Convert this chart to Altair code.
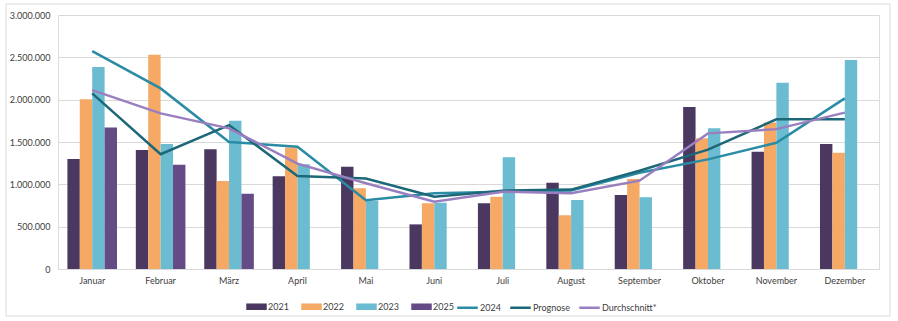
import altair as alt
import pandas as pd

months = ["Januar", "Februar", "März", "April", "Mai", "Juni", "Juli",
          "August", "September", "Oktober", "November", "Dezember"]

v2021 = [1300000, 1405000, 1413000, 1095000, 1208000, 527000, 776000,
         1019000, 874000, 1913000, 1385000, 1476000]
v2022 = [2005000, 2530000, 1039000, 1435000, 955000, 776000, 854000,
         634000, 1063000, 1545000, 1730000, 1373000]
v2023 = [2385000, 1476000, 1750000, 1238000, 805000, 783000, 1319000,
         815000, 846000, 1663000, 2200000, 2468000]
v2025 = [1670000, 1232000, 889000]

l2024 = [2574000, 2133000, 1500000, 1444000, 812000, 894000, 913000,
         928000, 1137000, 1295000, 1491000, 2015000]
prognose = [2075000, 1356000, 1700000, 1098000, 1068000, 854000, 925000,
            938000, 1160000, 1410000, 1768000, 1768000]
durchschnitt = [2113000, 1838000, 1661000, 1245000, 1012000, 795000, 913000,
                895000, 1043000, 1602000, 1652000, 1847000]

bar_series = ["2021", "2022", "2023", "2025"]
bar_colors = ["#4A3860", "#F6A865", "#6BBCD1", "#654B85"]
line_series = ["2024", "Prognose", "Durchschnitt*"]
line_colors = ["#2A8BA5", "#1D6878", "#9A7FC0"]

rows = []
for name, vals in zip(bar_series, [v2021, v2022, v2023, v2025]):
    for m, v in zip(months, vals):
        rows.append({"Monat": m, "Serie": name, "Wert": v})
bars_df = pd.DataFrame(rows)

rows = []
for name, vals in zip(line_series, [l2024, prognose, durchschnitt]):
    for m, v in zip(months, vals):
        rows.append({"Monat": m, "Linie": name, "Wert": v})
lines_df = pd.DataFrame(rows)

x_enc = alt.X(
    "Monat:N", sort=months, title=None,
    scale=alt.Scale(domain=months, paddingInner=0.275, paddingOuter=0.1375),
    axis=alt.Axis(labelAngle=0, ticks=False, domain=False, labelPadding=7,
                  labelFontSize=9, labelColor="#404040", labelFont="Lato"),
)
y_enc = alt.Y(
    "Wert:Q", title=None,
    scale=alt.Scale(domain=[0, 3000000], nice=False),
    axis=alt.Axis(values=[0, 500000, 1000000, 1500000, 2000000, 2500000, 3000000],
                  format=",d", ticks=False, domain=False, labelPadding=8,
                  gridColor="#D9D9D9", gridWidth=1,
                  labelFontSize=9, labelColor="#404040", labelFont="Lato"),
)

bars = alt.Chart(bars_df).mark_bar(size=12.4).encode(
    x=x_enc,
    y=y_enc,
    xOffset=alt.XOffset("Serie:N", sort=bar_series,
                        scale=alt.Scale(domain=bar_series, paddingInner=0, paddingOuter=0)),
    fill=alt.Fill("Serie:N", sort=bar_series,
                  scale=alt.Scale(domain=bar_series, range=bar_colors),
                  legend=alt.Legend(title=None, orient="none", direction="horizontal",
                                    legendX=188, legendY=281,
                                    symbolType="M-1,-0.32H1V0.32H-1Z", symbolSize=420,
                                    symbolStrokeWidth=0, labelOffset=1, columnPadding=12,
                                    labelFontSize=9, labelColor="#404040", labelFont="Lato")),
)

lines = alt.Chart(lines_df).mark_line(strokeWidth=2.5).encode(
    x=alt.X("Monat:N", sort=months),
    y=alt.Y("Wert:Q"),
    stroke=alt.Stroke("Linie:N", sort=line_series,
                      scale=alt.Scale(domain=line_series, range=line_colors),
                      legend=alt.Legend(title=None, orient="none", direction="horizontal",
                                        legendX=398, legendY=281,
                                        symbolType="stroke", symbolSize=420,
                                        symbolStrokeWidth=2.5, labelOffset=1, columnPadding=4,
                                        labelFontSize=9, labelColor="#404040", labelFont="Lato")),
)

frame = alt.Chart(pd.DataFrame({"a": [0]})).mark_rect(
    filled=False, stroke="#D9D9D9", strokeWidth=1
).encode(
    x=alt.value(-52), x2=alt.value(832), y=alt.value(-11), y2=alt.value(301)
)

chart = alt.layer(bars, lines, frame).properties(
    width=821, height=254,
    autosize=alt.AutoSizeParams(type="none"),
    padding={"left": 58, "top": 15, "right": 19, "bottom": 52},
    background="white",
).configure_view(stroke=None).configure(
    locale={"number": {"decimal": ",", "thousands": ".", "grouping": [3],
                       "currency": ["", " €"]}}
)

chart.save("out.html", embed_options={"renderer": "svg", "actions": False})
